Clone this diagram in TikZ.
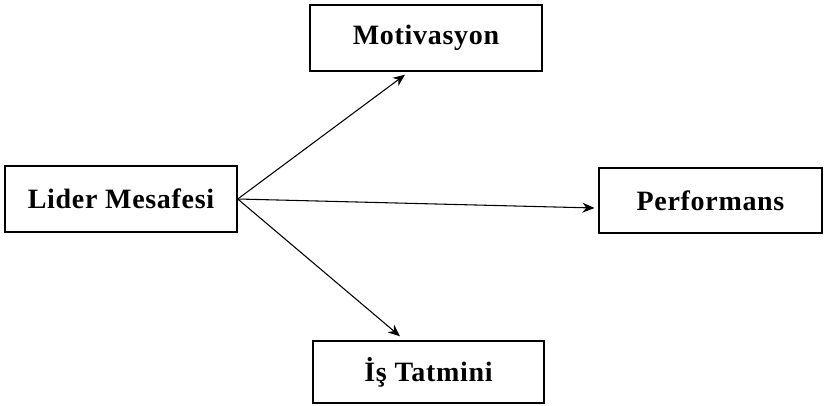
\documentclass[tikz,border=0pt]{standalone}
\usepackage{fontspec}
\setmainfont[LetterSpace=2.5]{Liberation Serif}
\usetikzlibrary{arrows.meta}

\begin{document}
\begin{tikzpicture}[x=0.75pt,y=-0.75pt,>={Stealth[length=9pt,width=7.5pt]},
  box/.style={shape=rectangle,draw,line width=1.1pt,inner sep=0pt,
    font=\bfseries\fontsize{21}{25}\selectfont}]
\useasboundingbox (0,0) rectangle (824,406);
\node (lider)  at (121,199)   [box,minimum width=174pt,minimum height=49.5pt] {Lider Mesafesi};
\node (motiv)  at (426,38)    [box,minimum width=174pt,minimum height=49.5pt] {Motivasyon};
\node (perf)   at (710.5,200.5) [box,minimum width=167pt,minimum height=49pt] {Performans};
\node (tatmin) at (428.5,372) [box,minimum width=173pt,minimum height=46.5pt] {İş Tatmini};
\draw [->,line width=0.8pt] (lider.east) -- ([shift={(-21,3)}]motiv.south);
\draw [->,line width=0.8pt] (lider.east) -- ([shift={(-4,7.5)}]perf.west);
\draw [->,line width=0.8pt] (lider.east) -- ([shift={(-28.5,-4)}]tatmin.north);
\end{tikzpicture}
\end{document}
